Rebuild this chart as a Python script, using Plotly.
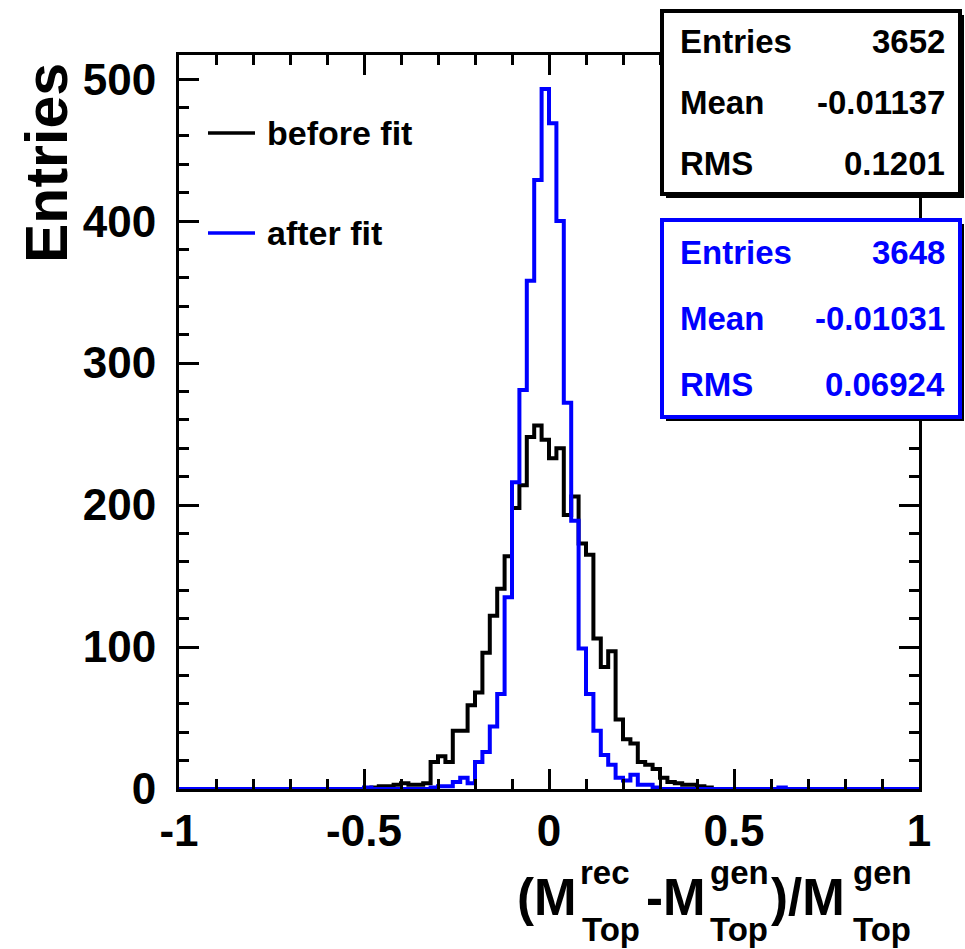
import numpy as np
import plotly.graph_objects as go

# ---------------- data ----------------
N_BINS = 100
X_LO, X_HI = -1.0, 1.0

# "before fit" histogram: counts of consecutive bins starting at lower edge -0.48
before_start = -0.48
before_counts = [1, 2, 2, 3, 4, 3, 3, 4,
                 19, 23, 19, 41, 41, 59, 68, 96, 122, 141, 164, 198, 214, 248, 256, 246,
                 233, 240, 193, 206, 173, 165, 106, 86, 97, 49, 35, 32, 19, 17, 14, 8, 5, 4, 3, 3, 2, 1]

# "after fit" histogram: counts of consecutive bins starting at lower edge -0.50
after_start = -0.50
after_counts = [1, 0, 0, 0, 0, 0, 0, 0, 0,
                1, 2, 2, 5, 8, 4, 19, 26, 44, 67, 135, 216, 281, 358, 429, 493,
                469, 400, 272, 189, 99, 67, 41, 24, 17, 8, 6, 10, 3, 3, 1,
                0, 0, 0, 0, 0, 0, 0, 0, 0, 0, 0, 0, 0, 0, 0, 0, 1]

series_names = ["before fit", "after fit"]
series_colors = ["#000000", "#0000ff"]

stats_labels = ["Entries", "Mean", "RMS"]
before_stats = ["3652", "-0.01137", "0.1201"]
after_stats = ["3648", "-0.01031", "0.06924"]

x_tickvals = [-1, -0.5, 0, 0.5, 1]
x_ticktext = ["-1", "-0.5", "0", "0.5", "1"]
y_tickvals = [0, 100, 200, 300, 400, 500]

# ---------------- helpers ----------------
edges = np.linspace(X_LO, X_HI, N_BINS + 1)


def full_hist(start, counts):
    arr = np.zeros(N_BINS)
    i0 = int(round((start - X_LO) / (X_HI - X_LO) * N_BINS))
    arr[i0:i0 + len(counts)] = counts
    return arr


def step_y(vals):
    return np.append(vals, vals[-1])


W, H = 965, 949
L, R, T, B = 179, 919, 55, 789  # plot area in pixels


def px(X):
    return (X - L) / (R - L)


def py(Y):
    return (B - Y) / (B - T)


FONT = "Liberation Sans, Arial, Helvetica, sans-serif"

fig = go.Figure()
for name, start, counts, col in [(series_names[0], before_start, before_counts, series_colors[0]),
                                 (series_names[1], after_start, after_counts, series_colors[1])]:
    vals = full_hist(start, counts)
    fig.add_trace(go.Scatter(x=edges, y=step_y(vals), mode="lines", name=name,
                             line=dict(color=col, width=4, shape="hv"),
                             showlegend=False, hoverinfo="skip"))

axis_common = dict(
    ticks="inside", tickwidth=3, tickcolor="black",
    showline=True, linewidth=3, linecolor="black", mirror="allticks",
    showgrid=False, zeroline=False,
    tickfont=dict(family=FONT, size=44, color="black", weight="bold"),
)

fig.update_xaxes(range=[X_LO, X_HI], tickvals=x_tickvals, ticktext=x_ticktext, ticklen=20,
                 minor=dict(ticks="inside", ticklen=10, tickwidth=3, dtick=0.1, tickcolor="black",
                            showgrid=False),
                 ticklabelstandoff=1, **axis_common)
fig.update_yaxes(range=[0, 517], tickvals=y_tickvals, ticklen=20,
                 minor=dict(ticks="inside", ticklen=10, tickwidth=3, dtick=20, tickcolor="black",
                            showgrid=False),
                 ticklabelstandoff=11, **axis_common)

shapes = []
annotations = []

# legend (manual, ROOT style)
for i, (name, col) in enumerate(zip(series_names, series_colors)):
    Y = 133 + 100 * i
    shapes.append(dict(type="line", xref="paper", yref="paper", x0=px(208), x1=px(255),
                       y0=py(Y), y1=py(Y), line=dict(color=col, width=3.5), layer="above"))
    annotations.append(dict(xref="paper", yref="paper", x=px(265), y=py(Y), xanchor="left",
                            yanchor="middle", text=name, showarrow=False,
                            font=dict(family=FONT, size=34, color="black", weight="bold")))

# stats boxes
boxes = [(11, 194, before_stats, "#000000"), (220, 417, after_stats, "#0000ff")]
for (y0, y1, vals, col) in boxes:
    shapes.append(dict(type="rect", xref="paper", yref="paper", x0=px(666), x1=px(964),
                       y0=py(y0 + 4), y1=py(y1 + 4), fillcolor="black", line=dict(width=0),
                       layer="above"))
    shapes.append(dict(type="rect", xref="paper", yref="paper", x0=px(662), x1=px(960),
                       y0=py(y0), y1=py(y1), fillcolor="white", line=dict(color=col, width=4),
                       layer="above"))
    row_h = (y1 - y0) / 3.0
    for k, (lab, v) in enumerate(zip(stats_labels, vals)):
        Yc = y0 + row_h * (k + 0.5)
        annotations.append(dict(xref="paper", yref="paper", x=px(678), y=py(Yc), xanchor="left",
                                yanchor="middle", text=lab, showarrow=False,
                                font=dict(family=FONT, size=33, color=col, weight="bold")))
        annotations.append(dict(xref="paper", yref="paper", x=px(947), y=py(Yc), xanchor="right",
                                yanchor="middle", text=v, showarrow=False,
                                font=dict(family=FONT, size=33, color=col, weight="bold")))

# y title
annotations.append(dict(xref="paper", yref="paper", x=px(47), y=py(163), xanchor="center",
                        yanchor="middle", text="Entries", textangle=-90, showarrow=False,
                        font=dict(family=FONT, size=59, color="black", weight="bold")))

# x title built from pieces (stacked super/subscripts)
main_f = dict(family=FONT, size=51, color="black", weight="bold")
scr_f = dict(family=FONT, size=33, color="black", weight="bold")
pieces = [
    ("(M", 515, 897, main_f), ("rec", 578, 873, scr_f), ("Top", 580, 929, scr_f),
    ("-M", 644, 897, main_f), ("gen", 708, 872, scr_f), ("Top", 708, 929, scr_f),
    (")/M", 769, 897, main_f), ("gen", 851, 872, scr_f), ("Top", 851, 929, scr_f),
]
for txt, X, Y, f in pieces:
    annotations.append(dict(xref="paper", yref="paper", x=px(X), y=py(Y), xanchor="left",
                            yanchor="middle", text=txt, showarrow=False, font=f))

fig.update_layout(width=W, height=H, margin=dict(l=L, r=W - R, t=T, b=H - B),
                  paper_bgcolor="white", plot_bgcolor="white", showlegend=False,
                  shapes=shapes, annotations=annotations)

fig.write_html("out.html")
